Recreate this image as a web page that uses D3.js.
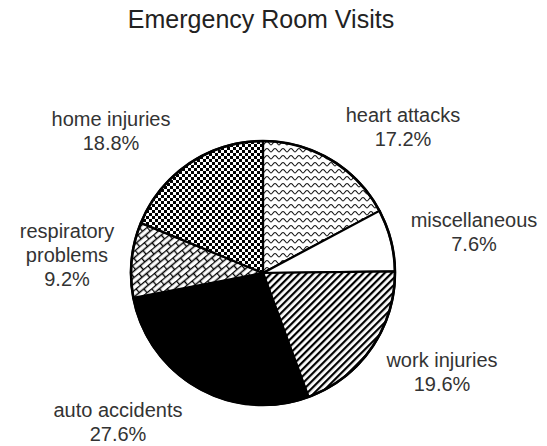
<!DOCTYPE html>
<html>
<head>
<meta charset="utf-8">
<script src="https://cdn.jsdelivr.net/npm/d3@7"></script>
<style>
  body { margin: 0; background: white; }
  text { font-family: "Liberation Sans", Arial, sans-serif; }
</style>
</head>
<body>
<div id="chart"></div>
<script>
// chart data
const categories = ['heart attacks', 'miscellaneous', 'work injuries', 'auto accidents', 'respiratory problems', 'home injuries'];
const shares = [17.2, 7.6, 19.6, 27.6, 9.2, 18.8];
const labelLines = [['heart attacks'], ['miscellaneous'], ['work injuries'], ['auto accidents'], ['respiratory', 'problems'], ['home injuries']];
const title = 'Emergency Room Visits';

// layout
let width = 547,
	height = 446,
	cx = 263,
	cy = 273,
	radius = 132;

// label anchors (centre x, first baseline y), same order as categories
let labelPos = [[403, 122], [474, 227], [442, 367], [118, 417], [67, 238], [111, 126]];

let svg = d3.select('#chart')
	.append('svg')
	.attr('width', width)
	.attr('height', height)
	.style('background', 'white');

let defs = svg.append('defs');

// wavy lines for heart attacks
let pWave = defs.append('pattern')
	.attr('id', 'wave')
	.attr('patternUnits', 'userSpaceOnUse')
	.attr('width', 8)
	.attr('height', 7);
pWave.append('rect').attr('width', 8).attr('height', 7).attr('fill', 'white');
pWave.append('path')
	.attr('d', 'M0,5 C1.3,5 2.2,1.5 4,1.5 C5.8,1.5 6.7,5 8,5')
	.attr('fill', 'none')
	.attr('stroke', '#111')
	.attr('stroke-width', 1.1);

// diagonal stripes for work injuries
let pStripe = defs.append('pattern')
	.attr('id', 'stripe')
	.attr('patternUnits', 'userSpaceOnUse')
	.attr('width', 5)
	.attr('height', 10)
	.attr('patternTransform', 'rotate(45)');
pStripe.append('rect').attr('width', 5).attr('height', 10).attr('fill', 'white');
pStripe.append('rect').attr('width', 2.2).attr('height', 10).attr('fill', 'black');

// diagonal brick for respiratory problems
let pBrick = defs.append('pattern')
	.attr('id', 'brick')
	.attr('patternUnits', 'userSpaceOnUse')
	.attr('width', 12)
	.attr('height', 10)
	.attr('patternTransform', 'rotate(-40)');
pBrick.append('rect').attr('width', 12).attr('height', 10).attr('fill', 'white');
pBrick.append('path')
	.attr('d', 'M0,0.5 H12 M0,5.5 H12 M0.5,0.5 V5.5 M6.5,5.5 V10.5')
	.attr('fill', 'none')
	.attr('stroke', 'black')
	.attr('stroke-width', 1.4);

// small checkerboard for home injuries
let pCheck = defs.append('pattern')
	.attr('id', 'check')
	.attr('patternUnits', 'userSpaceOnUse')
	.attr('width', 6)
	.attr('height', 6);
pCheck.append('rect').attr('width', 6).attr('height', 6).attr('fill', 'white');
pCheck.append('rect').attr('width', 3).attr('height', 3).attr('fill', 'black');
pCheck.append('rect').attr('x', 3).attr('y', 3).attr('width', 3).attr('height', 3).attr('fill', 'black');

let fills = d3.scaleOrdinal()
	.domain(categories)
	.range(['url(#wave)', 'white', 'url(#stripe)', 'black', 'url(#brick)', 'url(#check)']);

// pie slices, clockwise from 12 o'clock in data order
let pie = d3.pie()
	.sort(null)
	.value(function (d, i) { return shares[i]; });

let arc = d3.arc()
	.innerRadius(0)
	.outerRadius(radius);

let chartGroup = svg.append('g')
	.attr('transform', 'translate(' + cx + ',' + cy + ')');

chartGroup.selectAll('path.slice')
	.data(pie(categories))
	.enter()
	.append('path')
	.attr('class', 'slice')
	.attr('d', arc)
	.attr('fill', function (d) { return fills(d.data); })
	.attr('stroke', 'black')
	.attr('stroke-width', 2.2)
	.attr('stroke-linejoin', 'round');

// outer rim
chartGroup.append('circle')
	.attr('r', radius)
	.attr('fill', 'none')
	.attr('stroke', 'black')
	.attr('stroke-width', 2.6);

// title
svg.append('text')
	.attr('x', 261)
	.attr('y', 28)
	.attr('text-anchor', 'middle')
	.style('font-size', '25px')
	.style('fill', '#222')
	.text(title);

// data labels
let labels = svg.selectAll('text.lbl')
	.data(categories)
	.enter()
	.append('text')
	.attr('class', 'lbl')
	.attr('text-anchor', 'middle')
	.style('font-size', '20px')
	.style('fill', '#333');

labels.each(function (d, i) {
	let t = d3.select(this);
	let lines = labelLines[i].concat([shares[i].toFixed(1) + '%']);
	lines.forEach(function (s, j) {
		t.append('tspan')
			.attr('x', labelPos[i][0])
			.attr('y', labelPos[i][1] + j * 24)
			.text(s);
	});
});
</script>
</body>
</html>
